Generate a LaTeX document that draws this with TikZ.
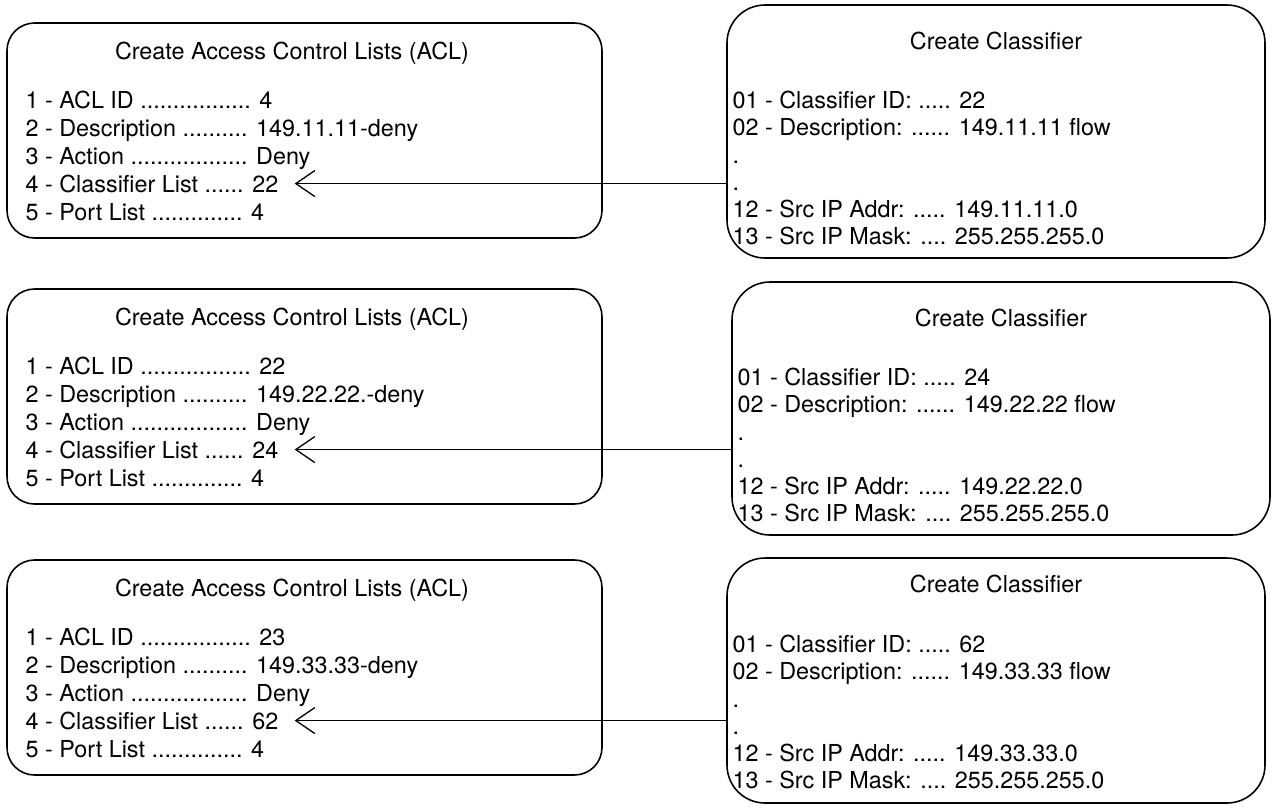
\documentclass[tikz,border=0pt]{standalone}
\usepackage{fontspec}
\setmainfont{TeX Gyre Heros}
\usetikzlibrary{arrows.meta, positioning}
\tikzset{
  aclBox/.style={rectangle, rounded corners=5.5mm, draw, line width=0.9pt,
                 minimum width=11.9cm, minimum height=4.3cm},
  clsBox/.style={rectangle, rounded corners=7.6mm, draw, line width=0.9pt,
                 minimum width=10.76cm, minimum height=5.06cm},
  item/.style={inner sep=0pt, anchor=north west, text height=4.42mm, text depth=1.04mm},
  head/.style={item, anchor=center},
  list/.style={inner sep=0pt, anchor=north west, align=left},
  arrowL/.style={-{Straight Barb[length=3.8mm, width=5.2mm]}, line width=0.75pt,
                 shorten >=3.2mm},
}
\begin{document}
\begin{tikzpicture}[font=\fontsize{13.3}{15.53}\selectfont]
    \useasboundingbox (0,0) rectangle (25.48,-16.18);

    % first pair
    \node[aclBox] (acl1) at (6.09,-2.61) {};
    \node[head] at ([xshift=-2.5mm, yshift=-5.8mm]acl1.north) {Create Access Control Lists (ACL)};
    \node[item] (acl1-1) at ([xshift=3.8mm, yshift=-12.67mm]acl1.north west) {1 - ACL ID ................. 4};
    \node[item] (acl1-2) at (acl1-1.south west) {2 - Description .......... 149.11.11-deny};
    \node[item] (acl1-3) at (acl1-2.south west) {3 - Action .................. Deny};
    \node[item] (acl1-4) at (acl1-3.south west) {4 - Classifier List ...... 22};
    \node[item] (acl1-5) at (acl1-4.south west) {5 - Port List .............. 4};
    \node[clsBox] (cls1) at (19.92,-2.63) {};
    \node[head] at ([yshift=-7.4mm]cls1.north) {Create Classifier};
    \node[list] (cls1-l) at ([xshift=1.2mm, yshift=-17.3mm]cls1.north west)
      {01 - Classifier ID: ..... 22\\02 - Description: ...... 149.11.11 flow\\.\\.\\
       12 - Src IP Addr: ..... 149.11.11.0\\13 - Src IP Mask: .... 255.255.255.0};
    \draw[arrowL] (cls1.west |- acl1-4) -- (acl1-4.east);

    % second pair
    \node[aclBox] (acl2) at (6.09,-7.93) {};
    \node[head] at ([xshift=-2.5mm, yshift=-5.8mm]acl2.north) {Create Access Control Lists (ACL)};
    \node[item] (acl2-1) at ([xshift=3.8mm, yshift=-12.67mm]acl2.north west) {1 - ACL ID ................. 22};
    \node[item] (acl2-2) at (acl2-1.south west) {2 - Description .......... 149.22.22.-deny};
    \node[item] (acl2-3) at (acl2-2.south west) {3 - Action .................. Deny};
    \node[item] (acl2-4) at (acl2-3.south west) {4 - Classifier List ...... 24};
    \node[item] (acl2-5) at (acl2-4.south west) {5 - Port List .............. 4};
    \node[clsBox] (cls2) at (20.02,-8.17) {};
    \node[head] at ([yshift=-7.4mm]cls2.north) {Create Classifier};
    \node[list] (cls2-l) at ([xshift=1.2mm, yshift=-17.3mm]cls2.north west)
      {01 - Classifier ID: ..... 24\\02 - Description: ...... 149.22.22 flow\\.\\.\\
       12 - Src IP Addr: ..... 149.22.22.0\\13 - Src IP Mask: .... 255.255.255.0};
    \draw[arrowL] (cls2.west |- acl2-4) -- (acl2-4.east);

    % third pair
    \node[aclBox] (acl3) at (6.09,-13.35) {};
    \node[head] at ([xshift=-2.5mm, yshift=-5.8mm]acl3.north) {Create Access Control Lists (ACL)};
    \node[item] (acl3-1) at ([xshift=3.8mm, yshift=-12.67mm]acl3.north west) {1 - ACL ID ................. 23};
    \node[item] (acl3-2) at (acl3-1.south west) {2 - Description .......... 149.33.33-deny};
    \node[item] (acl3-3) at (acl3-2.south west) {3 - Action .................. Deny};
    \node[item] (acl3-4) at (acl3-3.south west) {4 - Classifier List ...... 62};
    \node[item] (acl3-5) at (acl3-4.south west) {5 - Port List .............. 4};
    \node[clsBox, minimum height=4.9cm] (cls3) at (19.92,-13.61) {};
    \node[head] at ([yshift=-5.4mm]cls3.north) {Create Classifier};
    \node[list] (cls3-l) at ([xshift=1.2mm, yshift=-15.5mm]cls3.north west)
      {01 - Classifier ID: ..... 62\\02 - Description: ...... 149.33.33 flow\\.\\.\\
       12 - Src IP Addr: ..... 149.33.33.0\\13 - Src IP Mask: .... 255.255.255.0};
    \draw[arrowL] (cls3.west |- acl3-4) -- (acl3-4.east);
  \end{tikzpicture}
\end{document}
